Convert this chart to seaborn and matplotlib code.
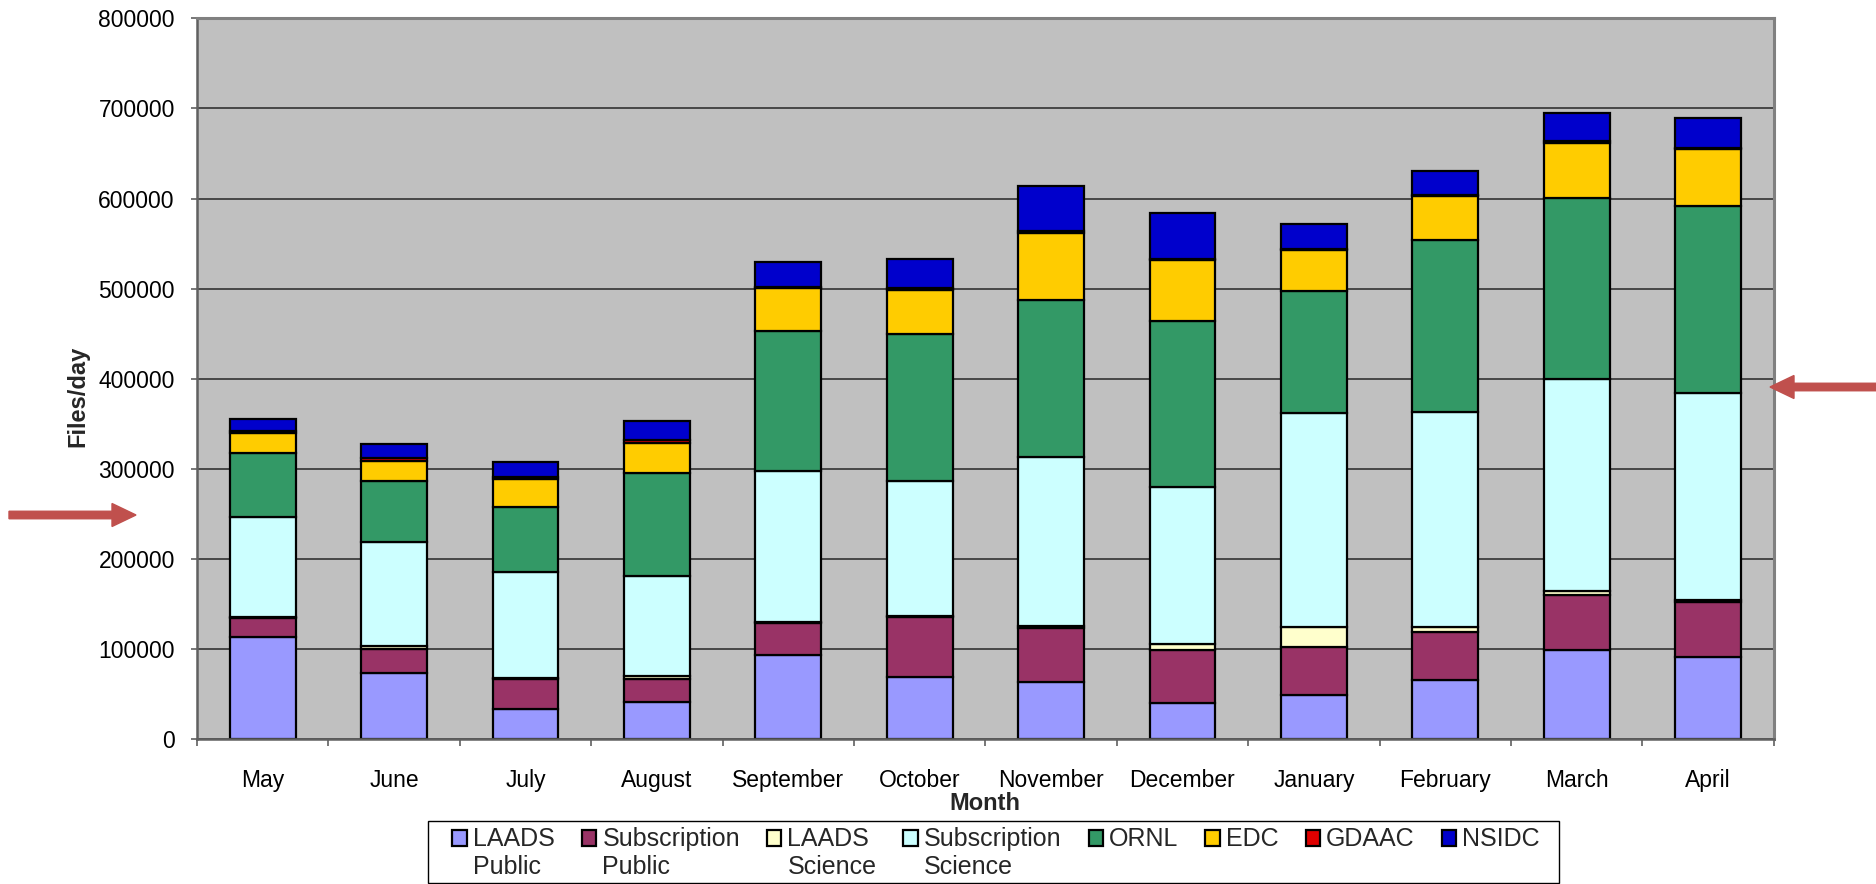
import numpy as np
import pandas as pd
import seaborn as sns
import matplotlib
matplotlib.use('Agg')
import matplotlib.pyplot as plt
from matplotlib.patches import Rectangle, FancyArrow
from matplotlib.legend_handler import HandlerPatch
from matplotlib.ticker import MultipleLocator, FixedLocator, FuncFormatter

months = ['May', 'June', 'July', 'August', 'September', 'October',
          'November', 'December', 'January', 'February', 'March', 'April']

laads_public = [114000, 73400, 33500, 41200, 94100, 69700, 64100, 40100, 49400, 65600, 99300, 91800]
subscription_public = [20400, 26600, 33300, 26300, 34800, 65800, 59900, 59200, 53500, 53100, 61300, 60700]
laads_science = [2000, 3700, 1000, 2900, 1000, 1500, 1500, 6300, 22200, 6300, 4400, 2500]
subscription_science = [110100, 115000, 117700, 111000, 168300, 149400, 187500, 174200, 236700, 238300, 234500, 229500]
ornl = [71000, 68000, 72800, 113900, 154900, 163100, 174500, 184400, 135700, 191200, 201300, 207000]
edc = [22200, 22600, 30300, 34000, 48100, 49100, 74700, 67700, 45500, 48200, 61300, 63100]
gdaac = [3000, 2700, 2900, 2900, 800, 1900, 2000, 1000, 1000, 1000, 1500, 1500]
nsidc = [12800, 15400, 16700, 21100, 28000, 32200, 49800, 50800, 27800, 27100, 31000, 32900]

series_names = ['LAADS\nPublic', 'Subscription\nPublic', 'LAADS\nScience', 'Subscription\nScience',
                'ORNL', 'EDC', 'GDAAC', 'NSIDC']
series_values = [laads_public, subscription_public, laads_science, subscription_science,
                 ornl, edc, gdaac, nsidc]
series_colors = ['#9999FF', '#993366', '#FFFFCC', '#CCFFFF', '#339966', '#FFCC00', '#E00000', '#0000CC']

y_ticks = [0, 100000, 200000, 300000, 400000, 500000, 600000, 700000, 800000]

LEGEND_SIZE = 18
LINE_SPACING = 1.25


def top_aligned_patch(legend, orig_handle, xdescent, ydescent, width, height, fontsize):
    # put the swatch next to the first line of a two line label
    return Rectangle((-xdescent, -ydescent + fontsize * LINE_SPACING / 2), width, height)


def main():
    sns.set_theme(style='white')
    plt.rcParams['font.family'] = ['Liberation Sans', 'DejaVu Sans']

    df = pd.DataFrame({'Month': months})
    for name, vals in zip(series_names, series_values):
        df[name] = vals

    fig = plt.figure(figsize=(18.76, 8.84), dpi=100)
    ax = fig.add_axes([0.105, 0.1635, 0.8405, 0.8158])
    ax.set_facecolor('#C0C0C0')

    bottom = np.zeros(len(months))
    for name, vals, color in zip(series_names, series_values, series_colors):
        sns.barplot(data=df, x='Month', y=name, order=months, color=color, saturation=1,
                    width=0.5, bottom=bottom.copy(), edgecolor='black', linewidth=1.6,
                    errorbar=None, ax=ax)
        bottom += np.array(vals)

    ax.set_ylim(0, 800000)
    ax.set_xlim(-0.5, len(months) - 0.5)
    ax.yaxis.set_major_locator(FixedLocator(y_ticks))
    ax.yaxis.set_major_formatter(FuncFormatter(lambda v, p: f'{int(v)}'))
    ax.yaxis.grid(True, color='#333333', linewidth=1.2)
    ax.set_axisbelow(True)

    ax.xaxis.set_minor_locator(MultipleLocator(1, offset=0.5))
    ax.tick_params(axis='x', which='major', length=0, pad=21, labelsize=16.5, colors='black')
    ax.tick_params(axis='x', which='minor', bottom=True, direction='out', length=5,
                   width=1.2, color='#606060')
    ax.tick_params(axis='y', which='major', left=True, direction='out', length=4,
                   width=1.2, color='#606060', pad=12, labelsize=16.5, labelcolor='black')

    for side in ['top', 'right']:
        ax.spines[side].set_color('#808080')
        ax.spines[side].set_linewidth(2.2)
    for side in ['left', 'bottom']:
        ax.spines[side].set_color('#606060')
        ax.spines[side].set_linewidth(1.8)

    ax.set_xlabel('Month', fontsize=17, fontweight='bold', labelpad=0)
    ax.set_ylabel('Files/day', fontsize=17, fontweight='bold')
    ax.yaxis.set_label_coords(-0.0685, 0.476)

    # legend box is drawn on its own, the legend itself has no frame
    fig.add_artist(Rectangle((428 / 1876, 1 - 883 / 884), (1559 - 428) / 1876, (883 - 821) / 884,
                             transform=fig.transFigure, facecolor='white', edgecolor='black',
                             linewidth=1.0, zorder=1))

    labels = [n if '\n' in n else n + '\n' for n in series_names]
    handles = [Rectangle((0, 0), 1, 1, facecolor=c, edgecolor='black', linewidth=1.6)
               for c in series_colors]
    leg = fig.legend(handles, labels, loc='lower center', bbox_to_anchor=(0.531, -0.009),
                     ncol=8, fontsize=LEGEND_SIZE, frameon=False,
                     handlelength=0.58, handleheight=0.6, handletextpad=0.24, columnspacing=1.08,
                     borderpad=0.0, labelspacing=0.1,
                     handler_map={Rectangle: HandlerPatch(patch_func=top_aligned_patch)})
    leg.set_zorder(2)
    for t in leg.get_texts():
        t.set_linespacing(LINE_SPACING)

    arrow_kw = dict(width=0.075, head_width=0.23, head_length=0.24, length_includes_head=True,
                    color='#C0504D', transform=fig.dpi_scale_trans)
    fig.add_artist(FancyArrow(0.09, (884 - 515) / 100, 1.27, 0, **arrow_kw))
    fig.add_artist(FancyArrow(18.80, (884 - 387) / 100, -1.10, 0, **arrow_kw))

    fig.savefig('out.png', dpi=100)
    plt.close(fig)


if __name__ == '__main__':
    main()
